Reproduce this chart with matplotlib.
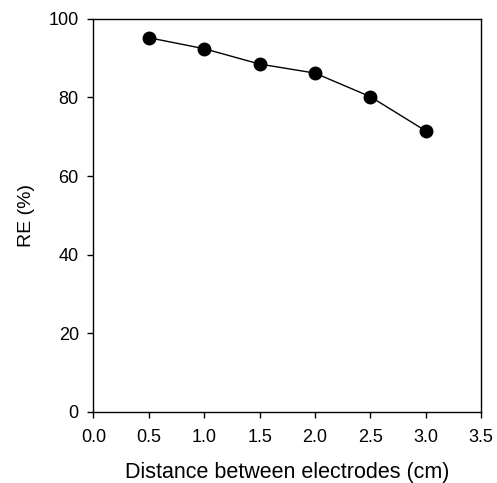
"""RE vs. distance between electrodes."""

import matplotlib
matplotlib.use("Agg")
import matplotlib.pyplot as plt

distance_cm = [0.5, 1.0, 1.5, 2.0, 2.5, 3.0]
re_percent = [95.2, 92.4, 88.5, 86.2, 80.2, 71.5]
x_ticks = [0.0, 0.5, 1.0, 1.5, 2.0, 2.5, 3.0, 3.5]
y_ticks = [0, 20, 40, 60, 80, 100]

plt.rcParams["font.family"] = ["Liberation Sans", "DejaVu Sans"]


def main() -> None:
    fig = plt.figure(figsize=(4.97, 4.83), dpi=100)
    ax = fig.add_axes([0.188, 0.147, 0.78, 0.814])
    ax.plot(distance_cm, re_percent, color="black", linewidth=1.0,
            marker="o", markersize=9, markerfacecolor="black", markeredgecolor="black")
    ax.set_xlim(0, 3.5)
    ax.set_ylim(0, 100)
    ax.set_xticks(x_ticks)
    ax.set_xticklabels([f"{t:.1f}" for t in x_ticks])
    ax.set_yticks(y_ticks)
    ax.tick_params(axis="both", direction="out", length=4.5, width=1, labelsize=13,
                   top=False, right=False)
    ax.tick_params(axis="x", pad=8)
    ax.tick_params(axis="y", pad=6)
    for spine in ax.spines.values():
        spine.set_linewidth(1.0)
    ax.set_xlabel("Distance between electrodes (cm)", fontsize=15.5, labelpad=11)
    ax.set_ylabel("RE (%)", fontsize=14, labelpad=10)
    fig.savefig("out.png", dpi=100)
    plt.close(fig)


if __name__ == "__main__":
    main()
